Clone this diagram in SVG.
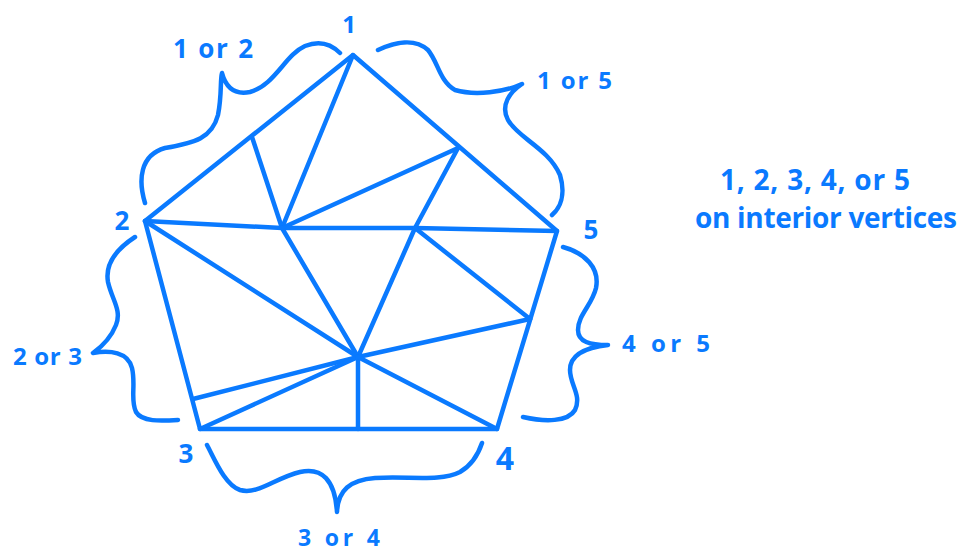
<svg xmlns="http://www.w3.org/2000/svg" width="960" height="553" viewBox="0 0 960 553">
  <style>
    .ln { stroke: #0a7aff; stroke-width: 4.5; stroke-linecap: round; stroke-linejoin: round; fill: none; }
    .br { stroke: #0a7aff; stroke-width: 4.5; stroke-linecap: round; stroke-linejoin: round; fill: none; }
    .lb { fill: #0a7aff; font-family: "Open Sans", "Liberation Sans", sans-serif; font-weight: 700; }
  </style>
  <rect width="960" height="553" fill="#ffffff"/>

  <g id="pentagon">
    <polygon class="ln" points="353,55 145,221 200,429 497,429 557,231"/>
  </g>

  <g id="connectors">
    <line class="ln" x1="252" y1="137" x2="282" y2="228"/>
    <line class="ln" x1="353" y1="55" x2="282" y2="228"/>
    <line class="ln" x1="282" y1="228" x2="458" y2="148"/>
    <line class="ln" x1="458" y1="148" x2="415" y2="228"/>
    <polyline class="ln" points="145,221 282,228 415,228 557,231"/>
    <line class="ln" x1="145" y1="221" x2="358" y2="357"/>
    <line class="ln" x1="282" y1="228" x2="358" y2="357"/>
    <line class="ln" x1="415" y1="228" x2="358" y2="357"/>
    <line class="ln" x1="415" y1="228" x2="530" y2="319"/>
    <line class="ln" x1="358" y1="357" x2="530" y2="319"/>
    <line class="ln" x1="193" y1="399" x2="358" y2="357"/>
    <line class="ln" x1="200" y1="429" x2="358" y2="357"/>
    <line class="ln" x1="358" y1="357" x2="358" y2="429"/>
    <line class="ln" x1="358" y1="357" x2="497" y2="429"/>
  </g>

  <g id="braces">
    <path id="brace-12" class="br" d="M145,203 C138,180 140,155 165,148 C195,143 212,138 218,115 C222,95 220,80 222,73 C226,88 235,95 250,92 C275,85 285,55 305,46 C320,40 332,45 340,53"/>
    <path id="brace-15" class="br" d="M378,50 C395,42 415,38 428,50 C438,62 440,82 455,90 C475,96 505,92 522,84 C510,92 500,105 508,120 C518,138 548,148 560,175 C566,195 560,208 552,215"/>
    <path id="brace-23" class="br" d="M135,237 C115,250 105,265 108,282 C112,300 122,310 116,325 C110,340 100,348 93,353 C110,350 128,352 132,368 C136,385 130,400 136,412 C142,422 160,421 178,420"/>
    <path id="brace-45" class="br" d="M563,247 C585,253 600,268 596,288 C592,305 578,315 578,330 C578,342 590,345 608,345 C590,347 570,352 570,370 C570,385 582,395 575,410 C568,422 545,422 523,417"/>
    <path id="brace-34" class="br" d="M207,445 C215,460 225,485 240,490 C258,495 275,478 300,472 C322,467 335,480 337,512 C338,490 350,480 375,478 C410,476 440,482 460,472 C472,465 478,455 482,443"/>
  </g>

  <g id="vertex-labels">
    <text id="v1" class="lb" x="349" y="33" font-size="24" text-anchor="middle">1</text>
    <text id="v2" class="lb" x="122" y="230" font-size="26" text-anchor="middle">2</text>
    <text id="v5" class="lb" x="591" y="239" font-size="26" text-anchor="middle">5</text>
    <text id="v3" class="lb" x="186" y="463" font-size="26" text-anchor="middle">3</text>
    <text id="v4" class="lb" x="505" y="470" font-size="32" text-anchor="middle">4</text>
  </g>

  <g id="brace-labels">
    <text id="l12" class="lb" x="173" y="58" font-size="26" textLength="80" lengthAdjust="spacing">1 or 2</text>
    <text id="l15" class="lb" x="537" y="89" font-size="24" textLength="75" lengthAdjust="spacing">1 or 5</text>
    <text id="l23" class="lb" x="13" y="365" font-size="24" textLength="69" lengthAdjust="spacing">2 or 3</text>
    <text id="l45" class="lb" x="622" y="352" font-size="24" textLength="88" lengthAdjust="spacing">4 or 5</text>
    <text id="l34" class="lb" x="298" y="546" font-size="23" textLength="82" lengthAdjust="spacing">3 or 4</text>
  </g>

  <g id="note">
    <text class="lb" x="720" y="190" font-size="28" textLength="190" lengthAdjust="spacing">1, 2, 3, 4, or 5</text>
    <text class="lb" x="695" y="228" font-size="28" textLength="262" lengthAdjust="spacing">on interior vertices</text>
  </g>
</svg>
